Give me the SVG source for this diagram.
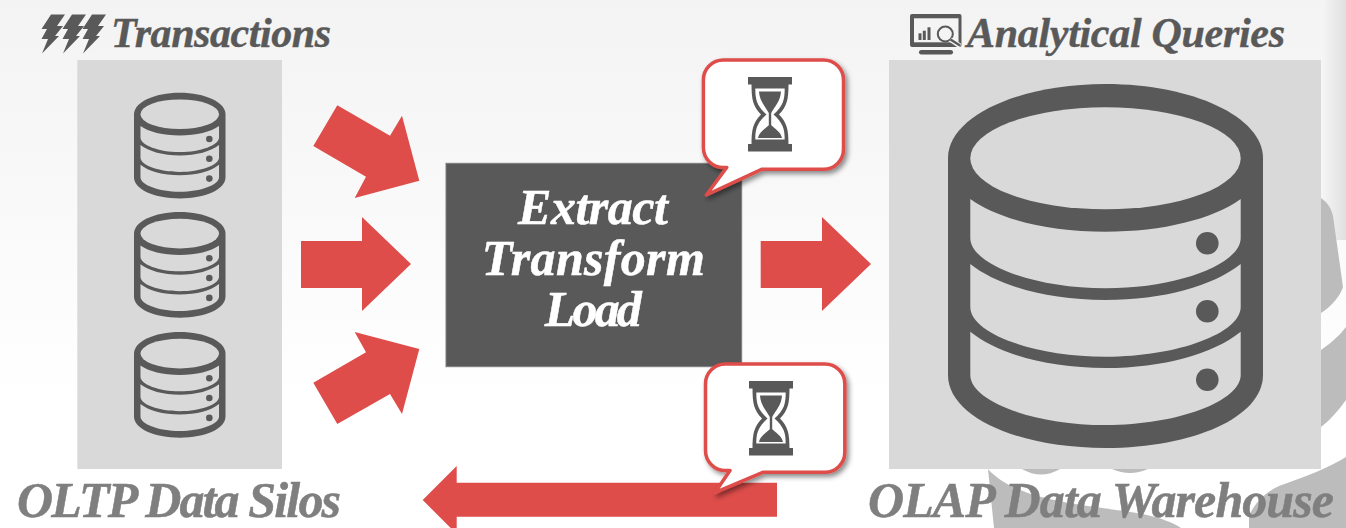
<svg xmlns="http://www.w3.org/2000/svg" width="1346" height="528" viewBox="0 0 1346 528">
<style>
.t{font-family:"Liberation Serif","Times New Roman",serif;font-style:italic;font-weight:700}
.h{font-size:42px;fill:#595959;stroke:#595959;stroke-width:.4}
.s{font-size:50px;fill:#7f7f7f;stroke:#7f7f7f;stroke-width:.5}
.e{font-size:50px;fill:#fff;stroke:#fff;stroke-width:.5}
.d{fill:#595959}
.p{fill:#d9d9d9}
.a{fill:#de4d4a}
.c{fill:#fff;stroke:#de4d4a;stroke-width:3.5;stroke-linejoin:round;filter:url(#sh)}
.g{fill:#bcbcbc}
</style>
<defs>
<linearGradient id="bg" x1="0" y1="0" x2="0" y2="1"><stop offset="0" stop-color="#f3f3f3"/><stop offset=".75" stop-color="#fff"/></linearGradient>
<linearGradient id="rg" x1="0" y1="0" x2="1" y2="0"><stop offset="0" stop-color="#f6f6f6"/><stop offset="1" stop-color="#e0e0e0"/></linearGradient>
<filter id="sh" x="-20%" y="-20%" width="150%" height="150%"><feDropShadow dx="2.5" dy="3" stdDeviation="2.5" flood-color="#000" flood-opacity=".45"/></filter>
<g id="db">
<path class="d" d="M0,74C0,33 70,0 157.5,0C245,0 315,33 315,74V291C315,333 245,364 157.5,364C70,364 0,333 0,291Z"/>
<ellipse class="p" cx="157.5" cy="74.3" rx="135.2" ry="51"/>
<path class="p" d="M22.3,115C50,135 100,147.7 157.5,147.7C215,147.7 265,135 292.7,115V154C292.7,180 230,204.3 157.5,204.3C85,204.3 22.3,180 22.3,154Z"/>
<path class="p" d="M22.3,180C50,202 100,216 157.5,216C215,216 265,202 292.7,180V223C292.7,249 230,272.7 157.5,272.7C85,272.7 22.3,249 22.3,223Z"/>
<path class="p" d="M22.3,247.7C50,270 100,284 157.5,284C215,284 265,270 292.7,247.7V291C292.7,317 230,341 157.5,341C85,341 22.3,317 22.3,291Z"/>
<circle class="d" cx="259.3" cy="159.3" r="11.3"/><circle class="d" cx="259.3" cy="227.3" r="11.3"/><circle class="d" cx="259.3" cy="295.7" r="11.3"/>
</g>
<g id="hg">
<rect class="d" x="-22" y="0" width="44" height="7.5"/><rect class="d" x="-22" y="67" width="44" height="7.5"/>
<path class="d" d="M-18.5,7C-18.5,23 -17,29 -9,37.5C-17,46 -18.5,52 -18.5,68H18.5C18.5,52 17,46 9,37.5C17,29 18.5,23 18.5,7Z"/>
<path fill="#fff" d="M-14.7,11.5H14.7C14.7,23 13,29 3.5,37.5C13,46 14.7,52 14.7,62.5H-14.7C-14.7,52 -13,46 -3.5,37.5C-13,29 -14.7,23 -14.7,11.5Z"/>
<path class="d" d="M-11,14.5H11C10.5,24 5,29 1.2,36V48H-1.2V36C-5,29 -10.5,24 -11,14.5Z"/>
<path class="d" d="M-12,61C-11,55 -5,52 0,47C5,52 11,55 12,61Z"/>
</g>
<polygon id="bolt" class="d" points="51,14.5 65,14.5 57,26 63,26 55,36 59,36 42,53.5 48,39 41.5,39 47,29 41.5,29"/>
</defs>
<g id="background">
<rect width="1346" height="528" fill="url(#bg)"/>
<rect x="1321" y="0" width="25" height="240" fill="url(#rg)"/>
<path class="g" d="M1321,198C1328,203 1331,208 1333,216L1343,287C1340,296 1332,306 1321,313Z"/>
<path class="g" d="M1321,350C1330,344 1340,335 1346,327V400C1338,411 1330,420 1321,427Z"/>
<path class="g" d="M1249,528V516C1256,500 1268,491 1279,486C1305,477 1330,467 1346,457V528Z"/>
<path class="g" d="M988,469C1020,505 1100,505 1147,515C1160,518 1172,522 1181,528H994Z"/>
<path class="g" d="M1022,469Q1041,480 1060,469Z"/><path class="g" d="M1112,469Q1130,477 1148,469Z"/>
</g>
<g id="panel-oltp"><rect class="p" x="77.3" y="60" width="204.7" height="409"/></g>
<g id="panel-olap"><rect class="p" x="889" y="60" width="432" height="409"/></g>
<g id="db-oltp-1"><use href="#db" transform="translate(134,92.7) scale(.2905)"/></g>
<g id="db-oltp-2"><use href="#db" transform="translate(134,212) scale(.2905)"/></g>
<g id="db-oltp-3"><use href="#db" transform="translate(134,332) scale(.2905)"/></g>
<g id="db-olap"><use href="#db" transform="translate(948,84)"/></g>
<g id="connectors">
<polygon class="a" points="337.3,105.3 390,135.7 402,115.7 419.3,180.7 354.7,198 366,176.7 313.3,146"/>
<polygon class="a" points="301,241 362,241 362,217 411,264 362,311 362,288 301,288"/>
<polygon class="a" points="337.3,424 390,394 402,414 419.3,349 354.7,332 366,352.3 313.3,382.7"/>
<polygon class="a" points="760.7,241 822,241 822,217 871,264 822,311 822,288 760.7,288"/>
<polygon class="a" points="777,482.7 456.7,482.7 456.7,466 422.7,500 456.7,534 456.7,516.7 777,516.7"/>
</g>
<g id="etl">
<rect x="446" y="163.3" width="295.7" height="203.4" class="d" stroke="#7f7f7f"/>
<text class="t e" x="593" y="224" text-anchor="middle" textLength="150">Extract</text>
<text class="t e" x="593.3" y="275" text-anchor="middle" textLength="223">Transform</text>
<text class="t e" x="593.3" y="325.7" text-anchor="middle" textLength="97">Load</text>
</g>
<g id="callout-top">
<path class="c" d="M723.4,60H823.5A20,20 0 0 1 843.5,80V149.3A20,20 0 0 1 823.5,169.3H761.6L706.3,195L726.7,167.5H723.4A20,20 0 0 1 703.4,147.5V80A20,20 0 0 1 723.4,60Z"/>
<use href="#hg" transform="translate(770,77)"/>
</g>
<g id="callout-bottom">
<path class="c" d="M725.5,364H824.8A20,20 0 0 1 844.8,384V452.3A20,20 0 0 1 824.8,472.3H762.8L714.8,492.7L730,470.5H725.5A20,20 0 0 1 705.5,450.5V384A20,20 0 0 1 725.5,364Z"/>
<use href="#hg" transform="translate(771,381)"/>
</g>
<g id="label-transactions">
<use href="#bolt"/><use href="#bolt" x="21"/><use href="#bolt" x="41"/>
<text class="t h" x="111" y="46.7" textLength="220">Transactions</text>
</g>
<g id="label-queries">
<rect class="d" x="910" y="14" width="51.5" height="33" rx="2"/>
<rect x="914" y="18.3" width="44.5" height="24" fill="#f4f4f4"/>
<rect class="d" x="919" y="50" width="34" height="4.5" rx="2.2"/>
<rect class="d" x="918.5" y="33.3" width="3" height="6.7"/><rect class="d" x="922.8" y="30.7" width="3" height="9.3"/><rect class="d" x="927.5" y="27.3" width="3" height="12.7"/>
<circle cx="945.3" cy="34" r="7.5" fill="#f4f4f4" stroke="#595959" stroke-width="2"/>
<path d="M950.5,39.5L960,46" stroke="#f4f4f4" stroke-width="5"/>
<path d="M950.5,39.5L960,45.5" stroke="#595959" stroke-width="2.5"/>
<text class="t h" x="967" y="46.7" textLength="318">Analytical Queries</text>
</g>
<g id="label-oltp"><text class="t s" x="17" y="516.7" textLength="324">OLTP Data Silos</text></g>
<g id="label-olap"><text class="t s" x="868" y="516.7" textLength="466">OLAP Data Warehouse</text></g>
</svg>
